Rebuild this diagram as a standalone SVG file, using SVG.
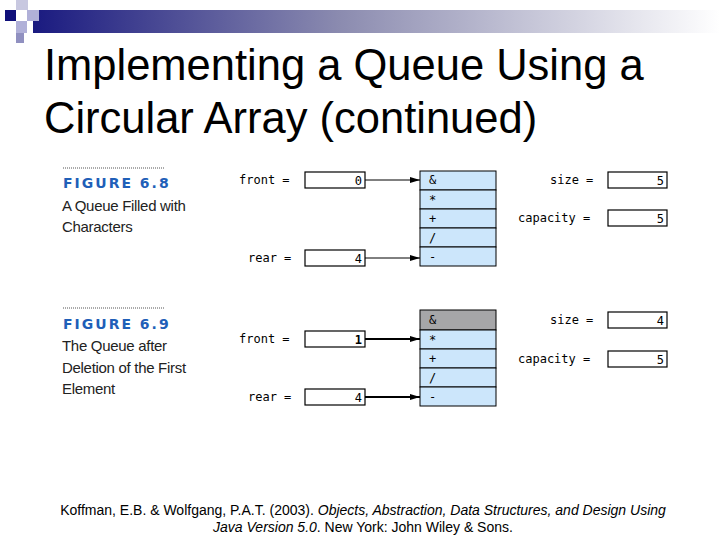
<svg xmlns="http://www.w3.org/2000/svg" width="720" height="540" viewBox="0 0 720 540">
<defs>
<linearGradient id="bar" x1="0" x2="1" y1="0" y2="0">
<stop offset="0" stop-color="#1a1a80"/><stop offset="0.45" stop-color="#8c8cb0"/><stop offset="1" stop-color="#ffffff"/>
</linearGradient>
<marker id="ah" viewBox="0 0 10 6" refX="10" refY="3" markerWidth="10" markerHeight="6" markerUnits="userSpaceOnUse" orient="auto"><path d="M0,0 L10,3 L0,6 z" fill="#000"/></marker>
<style>
.t{font-family:"Liberation Sans",Arial,sans-serif;font-size:43.5px;fill:#000}
.m{font-family:"DejaVu Sans Mono","Liberation Mono",monospace;font-size:12px;fill:#000}
.box{fill:#fff;stroke:#000;stroke-width:1.2}
.cell{fill:#cce6fb;stroke:#000;stroke-width:1}
.fig{font-family:"DejaVu Sans",sans-serif;font-weight:bold;font-size:14px;fill:#1f5fb8;letter-spacing:2px}
.cap{font-family:"Liberation Sans",sans-serif;font-size:15px;fill:#222;letter-spacing:-0.3px}
.ref{font-family:"Liberation Sans",Arial,sans-serif;font-size:14px;fill:#000}
.dot{stroke:#555;stroke-width:1;stroke-dasharray:1,1}
</style>
</defs>
<rect width="720" height="540" fill="#fff"/>
<g id="header">
<rect x="33" y="10" width="687" height="23" fill="url(#bar)"/>
<rect x="5" y="10" width="11" height="11" fill="#10107a"/>
<rect x="16" y="0" width="12" height="10" fill="#c8c8e0"/>
<rect x="27" y="10" width="12" height="11" fill="#b0b0d8"/>
<rect x="16" y="21" width="11" height="12" fill="#b0b0d8"/>
<rect x="16" y="33" width="8" height="10" fill="#9090c0"/>
</g>
<text class="t" x="44" y="80">Implementing a Queue Using a</text>
<text class="t" x="44" y="133">Circular Array (continued)</text>

<g id="caption1">
<line class="dot" x1="63" y1="168" x2="165" y2="168"/>
<text class="fig" x="63" y="188">FIGURE 6.8</text>
<text class="cap" x="62" y="211">A Queue Filled with</text>
<text class="cap" x="62" y="232">Characters</text>
</g>
<g id="caption2">
<line class="dot" x1="63" y1="308" x2="165" y2="308"/>
<text class="fig" x="63" y="329">FIGURE 6.9</text>
<text class="cap" x="62" y="351">The Queue after</text>
<text class="cap" x="62" y="373">Deletion of the First</text>
<text class="cap" x="62" y="394">Element</text>
</g>

<g id="vars1">
<text class="m" x="239" y="184">front =</text>
<rect class="box" x="305" y="172" width="60" height="16"/><text class="m" x="362" y="185" text-anchor="end">0</text>
<text class="m" x="248" y="262">rear =</text>
<rect class="box" x="305" y="250" width="60" height="16"/><text class="m" x="362" y="263" text-anchor="end">4</text>
<text class="m" x="550" y="184">size =</text>
<rect class="box" x="608" y="172" width="59" height="16"/><text class="m" x="664" y="185" text-anchor="end">5</text>
<text class="m" x="518" y="222">capacity =</text>
<rect class="box" x="608" y="210" width="59" height="16"/><text class="m" x="664" y="223" text-anchor="end">5</text>
</g>
<g id="array1">
<rect class="cell" x="420" y="171" width="76" height="19"/><text class="m" x="429" y="184">&amp;</text>
<rect class="cell" x="420" y="190" width="76" height="19"/><text class="m" x="429" y="204">*</text>
<rect class="cell" x="420" y="209" width="76" height="19"/><text class="m" x="429" y="223">+</text>
<rect class="cell" x="420" y="228" width="76" height="19"/><text class="m" x="429" y="242">/</text>
<rect class="cell" x="420" y="247" width="76" height="19"/><text class="m" x="429" y="261">-</text>
</g>

<g id="vars2">
<text class="m" x="239" y="343">front =</text>
<rect class="box" x="305" y="331" width="60" height="16"/><text class="m" x="362" y="344" text-anchor="end" font-weight="bold">1</text>
<text class="m" x="248" y="401">rear =</text>
<rect class="box" x="305" y="389" width="60" height="16"/><text class="m" x="362" y="402" text-anchor="end">4</text>
<text class="m" x="550" y="324">size =</text>
<rect class="box" x="608" y="312" width="59" height="16"/><text class="m" x="664" y="325" text-anchor="end">4</text>
<text class="m" x="518" y="363">capacity =</text>
<rect class="box" x="608" y="351" width="59" height="16"/><text class="m" x="664" y="364" text-anchor="end">5</text>
</g>
<g id="array2">
<rect x="420" y="310" width="76" height="20" fill="#a6a6a8" stroke="#000"/><text class="m" x="429" y="324">&amp;</text>
<rect class="cell" x="420" y="330" width="76" height="19"/><text class="m" x="429" y="344">*</text>
<rect class="cell" x="420" y="349" width="76" height="19"/><text class="m" x="429" y="363">+</text>
<rect class="cell" x="420" y="368" width="76" height="19"/><text class="m" x="429" y="382">/</text>
<rect class="cell" x="420" y="387" width="76" height="19"/><text class="m" x="429" y="401">-</text>
</g>

<g id="connectors" stroke="#000">
<line x1="365" y1="180" x2="420" y2="180" marker-end="url(#ah)"/>
<line x1="365" y1="258" x2="420" y2="258" marker-end="url(#ah)"/>
<line x1="365" y1="339" x2="420" y2="339" stroke-width="2" marker-end="url(#ah)"/>
<line x1="365" y1="397" x2="420" y2="397" stroke-width="2" marker-end="url(#ah)"/>
</g>

<text class="ref" x="363" y="515" text-anchor="middle">Koffman, E.B. &amp; Wolfgang, P.A.T. (2003). <tspan font-style="italic">Objects, Abstraction, Data Structures, and Design Using</tspan></text>
<text class="ref" x="363" y="532" text-anchor="middle"><tspan font-style="italic">Java Version 5.0</tspan>. New York: John Wiley &amp; Sons.</text>
</svg>
